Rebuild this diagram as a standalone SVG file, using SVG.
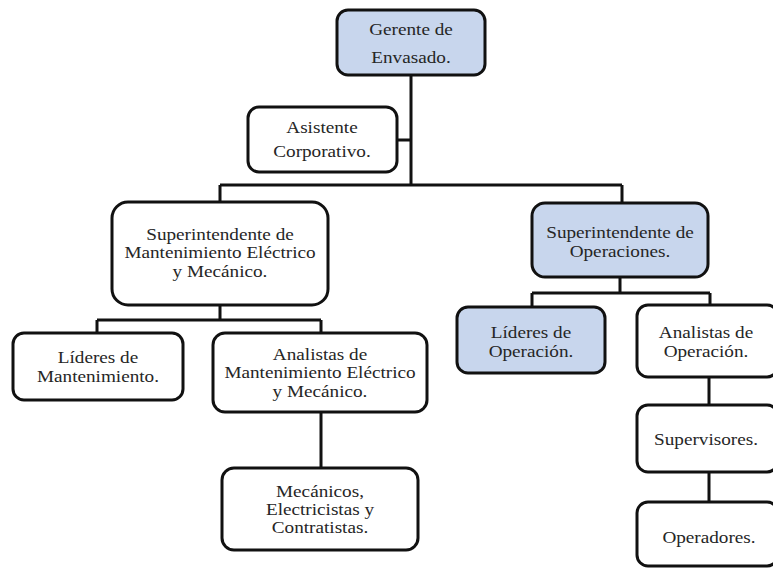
<svg xmlns="http://www.w3.org/2000/svg" width="773" height="569" viewBox="0 0 773 569">
<style>
.box{fill:#ffffff;stroke:#111;stroke-width:3}
.blue{fill:#c8d6ed}
.t{font-family:"Liberation Serif","Times New Roman",serif;font-size:16px;fill:#262626;text-anchor:middle}
.c{fill:none;stroke:#111;stroke-width:3}
</style>
<rect width="773" height="569" fill="#fff"/>
<g id="connectors">
<path class="c" d="M411 75V185M397 140H411M220 185H622M220 185V202M622 185V203"/>
<path class="c" d="M220 305V320M97 320H321M97 320V333M321 320V333M321 412V468"/>
<path class="c" d="M620 277V293M532 293H710M532 293V307M710 293V305M709 377V405M709 472V502"/>
</g>
<g id="gerente">
<rect class="box blue" x="337" y="10" width="148" height="65" rx="11"/>
<text class="t" transform="translate(411 0) scale(1.2 1)"><tspan x="0" y="35">Gerente de</tspan><tspan x="0" y="63">Envasado.</tspan></text>
</g>
<g id="asistente">
<rect class="box" x="248" y="107" width="149" height="65" rx="11"/>
<text class="t" transform="translate(322 0) scale(1.2 1)"><tspan x="0" y="133">Asistente</tspan><tspan x="0" y="157">Corporativo.</tspan></text>
</g>
<g id="sup-mant">
<rect class="box" x="112" y="202" width="216" height="103" rx="16"/>
<text class="t" transform="translate(220 0) scale(1.2 1)"><tspan x="0" y="240">Superintendente de</tspan><tspan x="0" y="258">Mantenimiento Eléctrico</tspan><tspan x="0" y="277">y Mecánico.</tspan></text>
</g>
<g id="sup-op">
<rect class="box blue" x="532" y="203" width="176" height="74" rx="13"/>
<text class="t" transform="translate(620 0) scale(1.2 1)"><tspan x="0" y="238">Superintendente de</tspan><tspan x="0" y="257">Operaciones.</tspan></text>
</g>
<g id="lideres-mant">
<rect class="box" x="13" y="333" width="170" height="67" rx="11"/>
<text class="t" transform="translate(98 0) scale(1.2 1)"><tspan x="0" y="363">Líderes de</tspan><tspan x="0" y="382">Mantenimiento.</tspan></text>
</g>
<g id="analistas-mant">
<rect class="box" x="213" y="333" width="214" height="79" rx="12"/>
<text class="t" transform="translate(320 0) scale(1.2 1)"><tspan x="0" y="360">Analistas de</tspan><tspan x="0" y="378">Mantenimiento Eléctrico</tspan><tspan x="0" y="397">y Mecánico.</tspan></text>
</g>
<g id="mecanicos">
<rect class="box" x="222" y="468" width="196" height="82" rx="12"/>
<text class="t" transform="translate(320 0) scale(1.2 1)"><tspan x="0" y="497">Mecánicos,</tspan><tspan x="0" y="515">Electricistas y</tspan><tspan x="0" y="533">Contratistas.</tspan></text>
</g>
<g id="lideres-op">
<rect class="box blue" x="457" y="307" width="148" height="66" rx="11"/>
<text class="t" transform="translate(531 0) scale(1.2 1)"><tspan x="0" y="338">Líderes de</tspan><tspan x="0" y="357">Operación.</tspan></text>
</g>
<g id="analistas-op">
<rect class="box" x="637" y="305" width="141" height="72" rx="11"/>
<text class="t" transform="translate(706 0) scale(1.2 1)"><tspan x="0" y="338">Analistas de</tspan><tspan x="0" y="357">Operación.</tspan></text>
</g>
<g id="supervisores">
<rect class="box" x="637" y="405" width="141" height="67" rx="11"/>
<text class="t" transform="translate(706 0) scale(1.2 1)"><tspan x="0" y="445">Supervisores.</tspan></text>
</g>
<g id="operadores">
<rect class="box" x="637" y="502" width="141" height="64" rx="11"/>
<text class="t" transform="translate(709 0) scale(1.2 1)"><tspan x="0" y="543">Operadores.</tspan></text>
</g>
</svg>
